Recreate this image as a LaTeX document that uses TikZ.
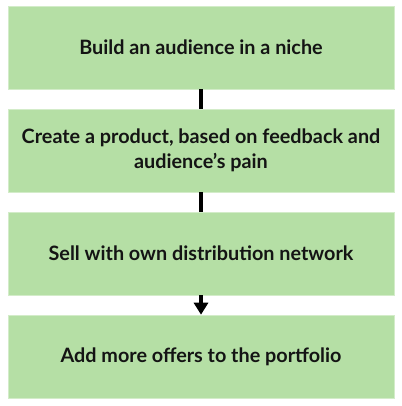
\documentclass[tikz,border=0pt]{standalone}
\usepackage{fontspec}
\setmainfont{Lato}
\usetikzlibrary{arrows.meta}
\definecolor{boxgreen}{RGB}{181,223,165}
\tikzset{
  stepbox/.style={fill=boxgreen, draw=boxgreen!60!white, line width=0.6pt, minimum width=386pt, minimum height=83pt, inner sep=0pt, align=center, font=\fontsize{19.8}{25}\selectfont\bfseries, text=black!92},
  conn/.style={line width=3.2pt, black},
}
\begin{document}
\begin{tikzpicture}[x=1pt,y=-1pt]
\useasboundingbox (0,0) rectangle (401,406);
\node[stepbox] (b1) at (201,47.5) {Build an audience in a niche};
\node[stepbox] (b2) at (201,150.5) {Create a product, based on feedback and\\audience’s pain};
\node[stepbox] (b3) at (201,253.5) {Sell with own distribution network};
\node[stepbox] (b4) at (201,356.5) {Add more offers to the portfolio};
\draw[conn] (b1.south) -- (b2.north);
\draw[conn] (b2.south) -- (b3.north);
\draw[conn, -{Triangle[width=14pt,length=12pt]}] (b3.south) -- (b4.north);
\end{tikzpicture}
\end{document}
